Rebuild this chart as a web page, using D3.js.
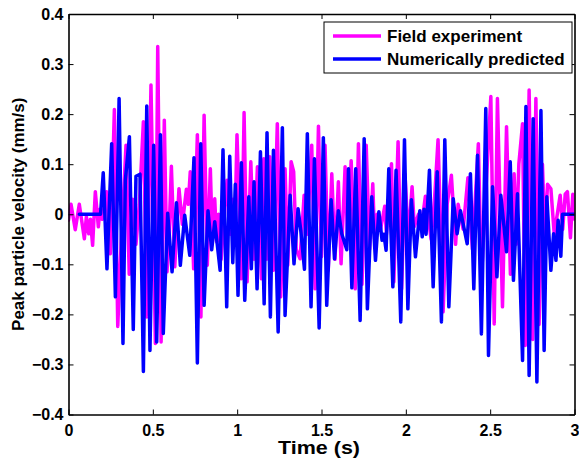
<!DOCTYPE html>
<html>
<head>
<meta charset="utf-8">
<script src="https://cdn.jsdelivr.net/npm/d3@7"></script>
<style>
  html, body { margin: 0; padding: 0; background: #fff; }
  svg { display: block; font-family: "Liberation Sans", Arial, sans-serif; }
</style>
</head>
<body>
<svg id="chart" width="579" height="461"></svg>
<script>
// ---- data (time s, velocity mm/s) ----
const seriesNames = ["Field experiment", "Numerically predicted"];
const seriesColors = ["#ff00ff", "#0000ff"];
const xTicks = [0, 0.5, 1, 1.5, 2, 2.5, 3];
const yTicks = [-0.4, -0.3, -0.2, -0.1, 0, 0.1, 0.2, 0.3, 0.4];

const fieldExperiment = [
  [0, -0.012], [0.015, 0.020], [0.040, -0.031], [0.064, 0.020], [0.094, -0.049], [0.106, -0.005],
  [0.120, -0.039], [0.130, -0.010], [0.143, -0.062], [0.159, 0.045], [0.177, -0.025], [0.186, 0.010],
  [0.200, -0.010], [0.226, 0.045], [0.248, -0.079], [0.272, 0.209], [0.292, -0.224], [0.312, -0.06],
  [0.341, 0.138], [0.360, -0.120], [0.380, 0.030], [0.400, -0.060], [0.420, 0.020], [0.444, 0.185],
  [0.464, -0.205], [0.489, 0.258], [0.515, -0.258], [0.529, 0.335], [0.549, -0.255], [0.568, 0.188],
  [0.584, -0.115], [0.597, -0.030], [0.610, 0.096], [0.630, -0.105], [0.655, 0.051], [0.675, -0.020],
  [0.699, 0.050], [0.710, 0.020], [0.722, 0.085], [0.742, -0.109], [0.764, 0.159], [0.785, -0.205],
  [0.804, 0.198], [0.823, -0.102], [0.841, 0.091], [0.853, -0.052], [0.867, 0.031], [0.878, -0.055],
  [0.890, 0.000], [0.905, -0.090], [0.920, -0.020], [0.940, 0.068], [0.960, -0.040], [0.975, 0.030],
  [0.985, -0.050], [0.999, 0.159], [1.025, -0.129], [1.041, 0.203], [1.059, -0.135], [1.081, 0.105],
  [1.100, -0.090], [1.120, 0.095], [1.144, -0.129], [1.158, 0.111], [1.175, -0.090], [1.193, 0.115],
  [1.215, -0.112], [1.238, 0.181], [1.258, -0.165], [1.284, 0.091], [1.300, -0.102], [1.320, 0.105],
  [1.335, 0.085], [1.350, -0.070], [1.373, -0.089], [1.397, 0.038], [1.415, -0.040], [1.442, 0.138],
  [1.462, -0.149], [1.482, 0.176], [1.500, -0.085], [1.521, 0.138], [1.540, -0.112], [1.561, 0.081],
  [1.580, -0.090], [1.600, 0.065], [1.616, -0.099], [1.640, 0.095], [1.655, -0.050], [1.676, 0.107],
  [1.700, -0.149], [1.719, 0.141], [1.740, -0.140], [1.765, 0.138], [1.785, -0.070], [1.804, 0.061],
  [1.815, -0.050], [1.830, 0.000], [1.850, -0.030], [1.875, 0.016], [1.885, -0.040], [1.915, 0.101],
  [1.929, -0.135], [1.954, 0.145], [1.975, -0.149], [1.995, 0.080], [2.015, -0.050], [2.037, 0.055],
  [2.050, -0.025], [2.075, 0.000], [2.090, -0.030], [2.116, 0.036], [2.150, -0.050], [2.170, 0.030],
  [2.191, 0.149], [2.221, -0.195], [2.245, 0.020], [2.270, 0.078], [2.295, -0.060], [2.310, 0.020],
  [2.340, -0.030], [2.368, 0.073], [2.395, -0.070], [2.430, 0.141], [2.448, -0.132], [2.475, 0.050],
  [2.504, 0.235], [2.524, -0.219], [2.543, 0.231], [2.573, -0.185], [2.597, 0.175], [2.620, -0.120],
  [2.642, 0.081], [2.655, -0.060], [2.670, 0.100], [2.692, 0.181], [2.708, -0.262], [2.731, 0.248],
  [2.752, -0.250], [2.771, 0.231], [2.790, -0.220], [2.810, 0.100], [2.825, -0.050], [2.840, 0.060],
  [2.860, 0.051], [2.880, -0.040], [2.915, 0.038], [2.930, -0.030], [2.945, 0.040], [2.958, 0.045],
  [2.976, -0.047], [2.990, 0.040], [3.000, -0.010]
];

const numericallyPredicted = [
  [0.064, 0], [0.190, 0], [0.206, 0.083], [0.228, -0.109], [0.256, 0.141], [0.278, -0.165],
  [0.300, 0.231], [0.323, -0.258], [0.337, 0.068], [0.361, 0.155], [0.384, -0.230], [0.400, 0.076],
  [0.424, 0.080], [0.444, -0.314], [0.464, 0.216], [0.483, -0.272], [0.505, 0.138], [0.523, -0.255],
  [0.545, 0.159], [0.562, -0.238], [0.588, 0.002], [0.614, -0.115], [0.640, 0.023], [0.663, -0.102],
  [0.689, -0.002], [0.719, -0.082], [0.744, 0.113], [0.764, -0.297], [0.784, 0.141], [0.804, -0.182],
  [0.827, 0.007], [0.849, -0.071], [0.867, -0.015], [0.899, -0.112], [0.916, 0.129], [0.938, -0.185],
  [0.956, 0.116], [0.974, -0.097], [0.989, 0.060], [1.005, -0.162], [1.025, 0.103], [1.045, -0.172],
  [1.069, 0.035], [1.084, -0.109], [1.100, 0.065], [1.118, -0.149], [1.138, 0.125], [1.160, -0.179],
  [1.177, 0.163], [1.197, -0.205], [1.215, 0.128], [1.243, -0.235], [1.268, 0.173], [1.284, -0.202],
  [1.314, 0.038], [1.337, -0.099], [1.361, 0.011], [1.377, -0.032], [1.399, -0.110], [1.416, 0.161],
  [1.438, -0.185], [1.458, 0.111], [1.486, -0.227], [1.511, 0.153], [1.531, -0.182], [1.557, 0.029],
  [1.577, -0.089], [1.600, 0.007], [1.620, -0.039], [1.650, -0.071], [1.660, 0.091], [1.680, -0.147],
  [1.703, 0.091], [1.729, -0.212], [1.753, 0.151], [1.772, -0.189], [1.798, 0.035], [1.820, -0.092],
  [1.840, 0.005], [1.859, -0.052], [1.870, -0.040], [1.883, -0.072], [1.899, 0.091], [1.923, -0.145],
  [1.942, 0.088], [1.970, -0.215], [1.992, 0.149], [2.012, -0.189], [2.033, 0.029], [2.057, -0.085],
  [2.083, 0.007], [2.097, -0.045], [2.108, 0.010], [2.120, -0.040], [2.140, 0.088], [2.162, -0.145],
  [2.186, 0.085], [2.211, -0.215], [2.231, 0.149], [2.255, -0.185], [2.281, 0.031], [2.304, -0.039],
  [2.324, 0.007], [2.364, -0.059], [2.383, 0.081], [2.403, -0.149], [2.425, 0.118], [2.448, -0.239],
  [2.474, 0.211], [2.490, -0.282], [2.514, 0.055], [2.540, -0.125], [2.563, 0.038], [2.597, -0.075],
  [2.619, 0.105], [2.638, -0.132], [2.662, 0.041], [2.692, -0.292], [2.712, 0.215], [2.731, -0.322],
  [2.755, 0.191], [2.777, -0.335], [2.801, 0.207], [2.820, -0.272], [2.836, 0.035], [2.860, -0.112],
  [2.876, -0.039], [2.890, -0.092], [2.903, -0.012], [2.919, -0.084], [2.929, 0], [3.000, 0]
];

// ---- layout ----
const svg = d3.select("#chart");
const plot = { left: 68.5, right: 574.5, top: 14, bottom: 414.5 };

const x = d3.scaleLinear().domain([0, 3]).range([plot.left, plot.right]);
const y = d3.scaleLinear().domain([-0.4, 0.4]).range([plot.bottom, plot.top]);

const clipId = "plotclip";
svg.append("defs").append("clipPath").attr("id", clipId)
  .append("rect")
  .attr("x", plot.left).attr("y", plot.top)
  .attr("width", plot.right - plot.left).attr("height", plot.bottom - plot.top);

const line = d3.line().x(d => x(d[0])).y(d => y(d[1]));

const seriesData = [fieldExperiment, numericallyPredicted];
const g = svg.append("g").attr("clip-path", `url(#${clipId})`);
seriesData.forEach((data, i) => {
  g.append("path")
    .datum(data)
    .attr("d", line)
    .attr("fill", "none")
    .attr("stroke", seriesColors[i])
    .attr("stroke-width", 3.5)
    .attr("stroke-linejoin", "round")
    .attr("stroke-linecap", "round");
});

// ---- axes (box with inward ticks on all sides) ----
const tickLen = 5;
const fontTick = "bold 16px 'Liberation Sans', Arial, sans-serif";

const axB = svg.append("g").attr("transform", `translate(0,${plot.bottom})`)
  .call(d3.axisBottom(x).tickValues(xTicks).tickSizeInner(-tickLen).tickSizeOuter(0)
    .tickPadding(10).tickFormat(d3.format("~g")));
const axT = svg.append("g").attr("transform", `translate(0,${plot.top})`)
  .call(d3.axisTop(x).tickValues(xTicks).tickSizeInner(-tickLen).tickSizeOuter(0).tickFormat(""));
const axL = svg.append("g").attr("transform", `translate(${plot.left},0)`)
  .call(d3.axisLeft(y).tickValues(yTicks).tickSizeInner(-tickLen).tickSizeOuter(0)
    .tickPadding(5).tickFormat(d3.format("~g")));
const axR = svg.append("g").attr("transform", `translate(${plot.right},0)`)
  .call(d3.axisRight(y).tickValues(yTicks).tickSizeInner(-tickLen).tickSizeOuter(0).tickFormat(""));

[axB, axT, axL, axR].forEach(a => {
  a.select(".domain").attr("stroke", "#000").attr("stroke-width", 1.6);
  a.selectAll(".tick line").attr("stroke", "#000").attr("stroke-width", 1);
  a.selectAll(".tick text").attr("fill", "#000").style("font", fontTick);
});

// ---- axis titles ----
svg.append("text")
  .attr("x", 319).attr("y", 454)
  .attr("text-anchor", "middle")
  .attr("textLength", 82).attr("lengthAdjust", "spacingAndGlyphs")
  .style("font", "bold 18px 'Liberation Sans', Arial, sans-serif")
  .text("Time (s)");

svg.append("text")
  .attr("transform", `translate(24,${(plot.top + plot.bottom) / 2}) rotate(-90)`)
  .attr("text-anchor", "middle")
  .style("font", "bold 17px 'Liberation Sans', Arial, sans-serif")
  .text("Peak particle velocity (mm/s)");

// ---- legend ----
const leg = { x: 324, y: 22, w: 248, h: 51 };
const lg = svg.append("g");
lg.append("rect")
  .attr("x", leg.x).attr("y", leg.y).attr("width", leg.w).attr("height", leg.h)
  .attr("fill", "#fff").attr("stroke", "#000").attr("stroke-width", 1);
seriesNames.forEach((name, i) => {
  const cy = leg.y + 14 + i * 23;
  lg.append("line")
    .attr("x1", leg.x + 9).attr("x2", leg.x + 57)
    .attr("y1", cy).attr("y2", cy)
    .attr("stroke", seriesColors[i]).attr("stroke-width", 3.5);
  lg.append("text")
    .attr("x", leg.x + 63).attr("y", cy + 6)
    .style("font", "bold 17px 'Liberation Sans', Arial, sans-serif")
    .text(name);
});
</script>
</body>
</html>
